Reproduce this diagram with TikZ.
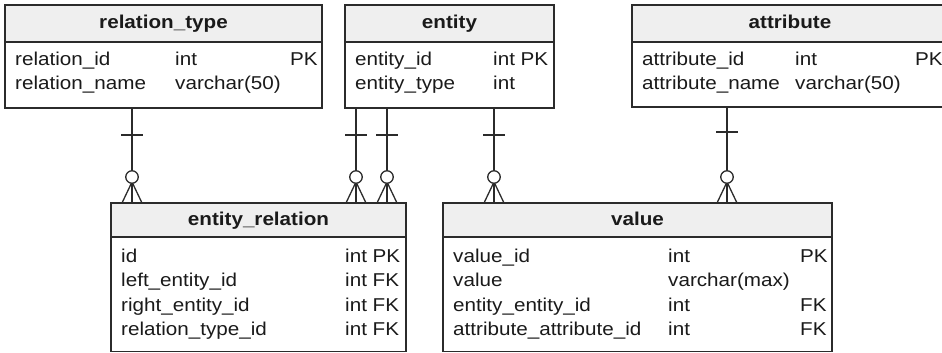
\documentclass[tikz,border=0pt]{standalone}
\usepackage{fontspec}
\setmainfont{Liberation Sans}[FakeStretch=1.11]
\definecolor{edge}{HTML}{2B2B2B}
\definecolor{hdrfill}{HTML}{EFEFEF}
\definecolor{ink}{HTML}{1A1A1A}
\tikzset{
  tblhead/.style={draw=edge, fill=hdrfill, line width=1.3pt, anchor=north west, inner sep=0pt, outer sep=0pt},
  tblbody/.style={draw=edge, fill=white, line width=1.3pt, anchor=north, inner sep=0pt, outer sep=0pt},
  title/.style={anchor=base, inner sep=0pt, text=ink, font=\fontsize{18.6}{22}\selectfont\bfseries},
  field/.style={anchor=base west, inner sep=0pt, text=ink, font=\fontsize{18.6}{22}\selectfont},
  link/.style={draw=edge, line width=1.3pt},
  optcircle/.style={circle, draw=edge, fill=white, line width=1.3pt, minimum size=12.5pt, inner sep=0pt},
}
% one-to-many (zero or more) link: #1 name, #2 x, #3 parent body, #4 child header, #5 tick y
\newcommand\erlink[5]{%
  \coordinate (#1) at (#2,#5);
  \coordinate (#1f) at (#4.north -| #1);
  \draw[link] (#3.south -| #1) -- (#1f);
  \draw[link] ([xshift=-11pt]#1) -- ([xshift=11pt]#1);
  \draw[link] ([xshift=-10pt]#1f) -- ([yshift=21pt]#1f) -- ([xshift=10pt]#1f);
  \node[optcircle] (#1c) at ([yshift=26pt]#1f) {};
}
\begin{document}
\begin{tikzpicture}[x=1pt, y=-1pt]
\useasboundingbox (0,0) rectangle (942,353);
\clip (0,0) rectangle (942,353);

% relation_type
\node[tblhead, minimum width=317pt, minimum height=37pt] (rt) at (5,5) {};
\node[tblbody, minimum width=317pt, minimum height=66pt] (rtb) at (rt.south) {};
\node[title] (rtt) at (163.5,28.3) {relation\_type};
\node[field] (rt1a) at (15,65.5) {relation\_id};
\node[field] (rt1b) at (175,65.5) {int};
\node[field] (rt1c) at (290,65.5) {PK};
\node[field] (rt2a) at (15,89) {relation\_name};
\node[field] (rt2b) at (175,89) {varchar(50)};

% entity
\node[tblhead, minimum width=209pt, minimum height=37pt] (en) at (345,5) {};
\node[tblbody, minimum width=209pt, minimum height=66pt] (enb) at (en.south) {};
\node[title] (ent) at (449.5,28.3) {entity};
\node[field] (en1a) at (355,65.5) {entity\_id};
\node[field] (en1b) at (493,65.5) {int PK};
\node[field] (en2a) at (355,89) {entity\_type};
\node[field] (en2b) at (493,89) {int};

% attribute
\node[tblhead, minimum width=316pt, minimum height=37pt] (at) at (632,5) {};
\node[tblbody, minimum width=316pt, minimum height=65pt] (atb) at (at.south) {};
\node[title] (att) at (790,28.3) {attribute};
\node[field] (at1a) at (642,65.5) {attribute\_id};
\node[field] (at1b) at (795,65.5) {int};
\node[field] (at1c) at (915,65.5) {PK};
\node[field] (at2a) at (642,89) {attribute\_name};
\node[field] (at2b) at (795,89) {varchar(50)};

% entity_relation
\node[tblhead, minimum width=295pt, minimum height=34pt] (er) at (111,203) {};
\node[tblbody, minimum width=295pt, minimum height=114.5pt] (erb) at (er.south) {};
\node[title] (ert) at (258.5,225) {entity\_relation};
\node[field] (er1a) at (121,262) {id};
\node[field] (er1b) at (345,262) {int PK};
\node[field] (er2a) at (121,286.5) {left\_entity\_id};
\node[field] (er2b) at (345,286.5) {int FK};
\node[field] (er3a) at (121,311) {right\_entity\_id};
\node[field] (er3b) at (345,311) {int FK};
\node[field] (er4a) at (121,335.5) {relation\_type\_id};
\node[field] (er4b) at (345,335.5) {int FK};

% value
\node[tblhead, minimum width=389pt, minimum height=34pt] (va) at (443,203) {};
\node[tblbody, minimum width=389pt, minimum height=114.5pt] (vab) at (va.south) {};
\node[title] (vat) at (637.5,225) {value};
\node[field] (va1a) at (453,262) {value\_id};
\node[field] (va1b) at (668,262) {int};
\node[field] (va1c) at (800,262) {PK};
\node[field] (va2a) at (453,286.5) {value};
\node[field] (va2b) at (668,286.5) {varchar(max)};
\node[field] (va3a) at (453,311) {entity\_entity\_id};
\node[field] (va3b) at (668,311) {int};
\node[field] (va3c) at (800,311) {FK};
\node[field] (va4a) at (453,335.5) {attribute\_attribute\_id};
\node[field] (va4b) at (668,335.5) {int};
\node[field] (va4c) at (800,335.5) {FK};

% relationships
\erlink{lrt}{132}{rtb}{er}{135}
\erlink{lenl}{356}{enb}{er}{135}
\erlink{lenr}{387}{enb}{er}{135}
\erlink{lenv}{494}{enb}{va}{135}
\erlink{latv}{727}{atb}{va}{132}
\end{tikzpicture}
\end{document}
